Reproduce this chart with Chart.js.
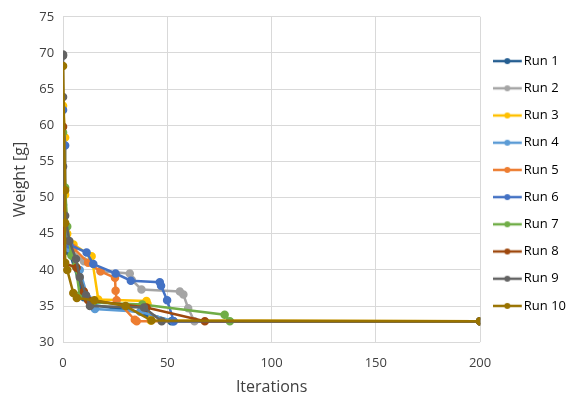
<!DOCTYPE html>
<html>
<head>
<meta charset="utf-8">
<script src="https://cdn.jsdelivr.net/npm/chart.js@4"></script>
<style>
html,body{margin:0;padding:0;background:#fff;}
#wrap{width:567px;height:397px;}
</style>
</head>
<body>
<div id="wrap"><canvas id="c" width="567" height="397"></canvas></div>
<script>
// Series names
const runNames = ["Run 1","Run 2","Run 3","Run 4","Run 5","Run 6","Run 7","Run 8","Run 9","Run 10"];
// [iteration, weight] pairs
const run1  = [[0,47.5],[1,44.0],[3,42.5],[10,36.2],[13,35.2],[40,34.0],[52,32.9],[200,32.9]];
const run2  = [[0,48.0],[1,44.5],[3,43.0],[10,41.2],[18,39.8],[32,39.5],[33,38.6],[37.6,37.3],[56,37.0],[57.7,36.6],[60,34.7],[63,32.9],[200,32.9]];
const run3  = [[0,62.7],[1,58.3],[1,50.4],[2,45.0],[5,43.5],[13.7,41.9],[16.9,35.9],[40,35.7],[40.5,35.3],[42,33.0],[200,32.9]];
const run4  = [[0,49.0],[1,45.0],[3,43.0],[8,40.0],[12,36.0],[15.3,34.6],[37,34.2],[53,32.9],[200,32.9]];
const run5  = [[0,46.0],[1,44.0],[5,43.0],[12,41.0],[18,39.8],[24.9,38.9],[25.2,37.1],[25.7,35.8],[34.4,33.1],[35.3,32.9],[200,32.9]];
const run6  = [[0,62.1],[1,57.2],[1,44.0],[3,43.5],[11.3,42.4],[14.5,40.8],[25.2,39.5],[32.5,38.5],[46.4,38.3],[47,37.8],[49.9,35.8],[53.1,32.9],[200,32.9]];
const run7  = [[0,59.0],[1,51.4],[2,46.0],[4,42.0],[6,40.5],[8,36.5],[14,35.5],[38,35.2],[77.5,33.8],[80,32.9],[200,32.9]];
const run8  = [[0,59.8],[0,41.0],[6.5,40.3],[10,37.0],[12,35.8],[40,34.8],[68,32.9],[200,32.9]];
const run9  = [[0,69.8],[0,69.6],[0,63.9],[0,54.3],[1,47.5],[3,44.0],[6.2,41.5],[8,39.0],[11,36.5],[12.9,35.0],[38.8,34.8],[47.3,32.9],[200,32.9]];
const run10 = [[0,68.2],[1,51.0],[1,46.5],[1,41.0],[2,40.0],[4.9,36.8],[6.6,36.1],[15,35.8],[30,35.0],[42.4,33.0],[200,32.9]];
const runData = [run1,run2,run3,run4,run5,run6,run7,run8,run9,run10];
// Colours
const runColors = ["#255E91","#A5A5A5","#FFC000","#5B9BD5","#ED7D31","#4472C4","#70AD47","#9E480E","#636363","#997300"];
// Axis ticks
const yTicks = [30,35,40,45,50,55,60,65,70,75];
const xTicks = [0,50,100,150,200];

const FONT = "'Open Sans', 'Liberation Sans', sans-serif";

function legendSymbol(color){
  const cv = document.createElement('canvas');
  cv.width = 36; cv.height = 10;
  const g = cv.getContext('2d');
  g.strokeStyle = color; g.lineWidth = 2.5;
  g.beginPath(); g.moveTo(0,5); g.lineTo(29,5); g.stroke();
  g.fillStyle = color;
  g.beginPath(); g.arc(14.5,5,3,0,Math.PI*2); g.fill();
  return cv;
}
const symbols = runColors.map(legendSymbol);

const datasets = runNames.map((name,i)=>({
  label: name,
  data: runData[i].map(p=>({x:p[0], y:p[1]})),
  borderColor: runColors[i],
  backgroundColor: runColors[i],
  borderWidth: 2.5,
  pointRadius: 3,
  pointHoverRadius: 3,
  showLine: true,
  tension: 0,
  order: runNames.length - i
}));

const legendShift = {
  id: 'legendShift',
  afterLayout(chart){
    const lg = chart.legend;
    if (!lg) return;
    lg.left += 10; lg.right += 10;
    lg.top -= 17; lg.bottom -= 17;
  }
};

new Chart(document.getElementById('c'), {
  type: 'scatter',
  data: { datasets },
  plugins: [legendShift],
  options: {
    responsive: false,
    animation: false,
    devicePixelRatio: 1,
    layout: { padding: { left: 11, right: 1, top: 4, bottom: 0 } },
    plugins: {
      tooltip: { enabled: false },
      legend: {
        position: 'right',
        align: 'center',
        labels: {
          usePointStyle: true,
          boxHeight: 13,
          padding: 14.2,
          color: '#000',
          font: { family: FONT, size: 13 },
          generateLabels: (chart) => chart.data.datasets.map((ds,i)=>({
            text: ds.label,
            fillStyle: ds.borderColor,
            strokeStyle: ds.borderColor,
            pointStyle: symbols[i],
            datasetIndex: i,
            hidden: false,
            fontColor: '#000'
          }))
        }
      }
    },
    scales: {
      x: {
        type: 'linear',
        min: xTicks[0], max: xTicks[xTicks.length-1],
        afterBuildTicks: (ax) => { ax.ticks = xTicks.map(v=>({value:v})); },
        grid: { color: '#D9D9D9', lineWidth: 1, drawTicks: false },
        border: { display: false },
        ticks: { color: '#404040', font: { family: FONT, size: 13 }, padding: 13 },
        title: { display: true, text: 'Iterations', color: '#404040', font: { family: FONT, size: 16 }, padding: { top: -6, bottom: 0 } }
      },
      y: {
        type: 'linear',
        min: yTicks[0], max: yTicks[yTicks.length-1],
        afterBuildTicks: (ax) => { ax.ticks = yTicks.map(v=>({value:v})); },
        grid: { color: '#D9D9D9', lineWidth: 1, drawTicks: false },
        border: { display: false },
        ticks: { color: '#404040', font: { family: FONT, size: 13 }, padding: 9 },
        title: { display: true, text: 'Weight [g]', color: '#404040', font: { family: FONT, size: 16 }, padding: { top: 0, bottom: 0 } }
      }
    }
  }
});
</script>
</body>
</html>
